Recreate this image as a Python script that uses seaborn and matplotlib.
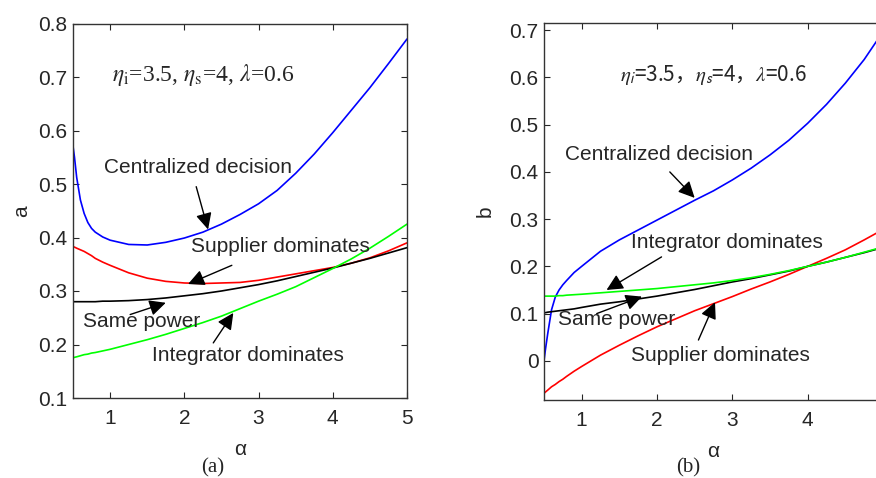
import numpy as np
import pandas as pd
import matplotlib
matplotlib.use('Agg')
import matplotlib.pyplot as plt
import seaborn as sns

# alpha grid (shared by every curve)
alpha = [0.5, 0.52, 0.55, 0.6, 0.65, 0.7, 0.75, 0.8, 0.9, 1.0, 1.25, 1.5, 1.75, 2.0, 2.25,
         2.5, 2.75, 3.0, 3.25, 3.5, 3.75, 4.0, 4.25, 4.5, 4.75, 5.0]

# panel (a): a
a_central = [0.571, 0.550, 0.512, 0.470, 0.445, 0.428, 0.417, 0.410, 0.401, 0.395,
             0.387, 0.386, 0.391, 0.399, 0.410, 0.425, 0.443, 0.463, 0.488, 0.520,
             0.556, 0.596, 0.638, 0.680, 0.725, 0.771]
a_supplier = [0.383, 0.382, 0.380, 0.377, 0.374, 0.370, 0.366, 0.361, 0.354, 0.348,
              0.334, 0.324, 0.318, 0.315, 0.314, 0.315, 0.316, 0.320, 0.326, 0.332,
              0.338, 0.344, 0.352, 0.362, 0.375, 0.390]
a_same = [0.280, 0.280, 0.280, 0.280, 0.280, 0.280, 0.280, 0.280, 0.281, 0.281,
          0.282, 0.284, 0.287, 0.291, 0.295, 0.300, 0.306, 0.312, 0.319, 0.327,
          0.335, 0.343, 0.352, 0.361, 0.371, 0.381]
a_integrator = [0.175, 0.176, 0.177, 0.179, 0.181, 0.182, 0.184, 0.185, 0.188, 0.191,
                0.200, 0.209, 0.219, 0.230, 0.241, 0.253, 0.267, 0.281, 0.294, 0.308,
                0.325, 0.342, 0.360, 0.380, 0.402, 0.425]

# panel (b): b
b_central = [0.0, 0.025, 0.058, 0.108, 0.135, 0.150, 0.161, 0.170, 0.187, 0.200,
             0.232, 0.256, 0.277, 0.298, 0.319, 0.340, 0.360, 0.383, 0.408, 0.436,
             0.467, 0.503, 0.543, 0.588, 0.638, 0.697]
b_supplier = [-0.069, -0.066, -0.062, -0.055, -0.050, -0.044, -0.039, -0.033, -0.022, -0.012,
              0.012, 0.033, 0.053, 0.072, 0.089, 0.106, 0.121, 0.136, 0.152, 0.167,
              0.183, 0.200, 0.217, 0.235, 0.256, 0.278]
b_same = [0.102, 0.102, 0.103, 0.104, 0.105, 0.106, 0.107, 0.108, 0.110, 0.113,
          0.120, 0.125, 0.131, 0.137, 0.144, 0.151, 0.159, 0.167, 0.174, 0.182,
          0.190, 0.200, 0.209, 0.219, 0.229, 0.240]
b_integrator = [0.137, 0.137, 0.137, 0.137, 0.137, 0.138, 0.138, 0.139, 0.140, 0.141,
                0.144, 0.147, 0.150, 0.153, 0.157, 0.161, 0.165, 0.170, 0.176, 0.183,
                0.191, 0.200, 0.209, 0.219, 0.230, 0.241]

curve_names = ['Centralized decision', 'Supplier dominates', 'Same power', 'Integrator dominates']
curve_colors = ['#0000ff', '#ff0000', '#000000', '#00ff00']

a_ticks = [0.1, 0.2, 0.3, 0.4, 0.5, 0.6, 0.7, 0.8]
a_ticklabels = ['0.1', '0.2', '0.3', '0.4', '0.5', '0.6', '0.7', '0.8']
b_ticks = [0, 0.1, 0.2, 0.3, 0.4, 0.5, 0.6, 0.7]
b_ticklabels = ['0', '0.1', '0.2', '0.3', '0.4', '0.5', '0.6', '0.7']
x_ticks = [1, 2, 3, 4, 5]
xa_ticklabels = ['1', '2', '3', '4', '5']
xb_ticklabels = ['1', '2', '3', '4', '']  # "5" falls outside the cropped picture

sns.set_style('white')
plt.rcParams['font.family'] = ['Liberation Sans', 'DejaVu Sans']
plt.rcParams['mathtext.fontset'] = 'stix'

FS = 15
DARK = '#262626'


def long_frame(series):
    rows = []
    for name, vals in zip(curve_names, series):
        for x, y in zip(alpha, vals):
            rows.append({'alpha': x, 'value': y, 'curve': name})
    return pd.DataFrame(rows)


df_a = long_frame([a_central, a_supplier, a_same, a_integrator])
df_b = long_frame([b_central, b_supplier, b_same, b_integrator])
palette = dict(zip(curve_names, curve_colors))

fig = plt.figure(figsize=(8.76, 4.78), dpi=100)
ax1 = fig.add_axes([73 / 876, 1 - 398 / 478, (407 - 73) / 876, (398 - 23.5) / 478])
ax2 = fig.add_axes([544 / 876, 1 - 400 / 478, (883 - 544) / 876, (400 - 22.7) / 478])

for ax, df, xl in [(ax1, df_a, xa_ticklabels), (ax2, df_b, xb_ticklabels)]:
    sns.lineplot(data=df, x='alpha', y='value', hue='curve', palette=palette,
                 hue_order=curve_names, estimator=None, sort=False,
                 linewidth=1.2, legend=False, ax=ax)
    ax.set_xlim(0.5, 5)
    ax.set_xticks(x_ticks, labels=xl)
    ax.tick_params(direction='in', top=True, right=True, bottom=True, left=True,
                   length=4, width=0.8, color=DARK, labelsize=FS, labelcolor=DARK)
    ax.tick_params(axis='x', pad=8)
    ax.tick_params(axis='y', pad=4)
    for sp in ax.spines.values():
        sp.set_visible(True)
        sp.set_color('#333333')
        sp.set_linewidth(1.0)
    ax.set_xlabel('α', fontsize=FS, color=DARK)
    ax.xaxis.set_label_coords(0.5, -0.112)

ax1.set_ylim(0.1, 0.8)
ax1.set_yticks(a_ticks, labels=a_ticklabels)
ax1.set_ylabel('a', fontsize=FS, color=DARK)
ax1.yaxis.set_label_coords(-0.125, 0.5)

ax2.set_ylim(-0.083, 0.716)
ax2.set_yticks(b_ticks, labels=b_ticklabels)
ax2.set_ylabel('b', fontsize=FS, color=DARK)
ax2.yaxis.set_label_coords(-0.145, 0.5)

arrow = dict(arrowstyle='-|>,head_length=0.45,head_width=0.22', color='k',
             lw=1.0, shrinkA=0, shrinkB=0, mutation_scale=22)

# panel (a) annotations
ax1.text(1.03, 0.703, r'$\eta_{\rm i}$=3.5, $\eta_{\rm s}$=4, $\lambda$=0.6',
         fontsize=17, family='Liberation Serif', ha='left', va='center')
ax1.text(0.92, 0.531, 'Centralized decision', fontsize=FS, ha='left', va='center')
ax1.text(2.085, 0.383, 'Supplier dominates', fontsize=FS, ha='left', va='center')
ax1.text(0.63, 0.2436, 'Same power', fontsize=FS, ha='left', va='center')
ax1.text(1.56, 0.179, 'Integrator dominates', fontsize=FS, ha='left', va='center')
ax1.annotate('', xy=(2.32, 0.415), xytext=(2.16, 0.495), arrowprops=arrow)
ax1.annotate('', xy=(2.05, 0.313), xytext=(2.64, 0.348), arrowprops=arrow)
ax1.annotate('', xy=(1.75, 0.278), xytext=(1.27, 0.256), arrowprops=arrow)
ax1.annotate('', xy=(2.66, 0.259), xytext=(2.39, 0.203), arrowprops=arrow)

# panel (b) annotations
ax2.text(1.51, 0.605, r'$\eta_{\mathsf{i}}$=3.5，$\eta_{\mathsf{s}}$=4，$\lambda$=0.6',
         fontsize=FS, family='Noto Sans CJK SC', ha='left', va='center')
ax2.text(0.78, 0.436, 'Centralized decision', fontsize=FS, ha='left', va='center')
ax2.text(1.65, 0.25, 'Integrator dominates', fontsize=FS, ha='left', va='center')
ax2.text(0.69, 0.088, 'Same power', fontsize=FS, ha='left', va='center')
ax2.text(1.65, 0.012, 'Supplier dominates', fontsize=FS, ha='left', va='center')
ax2.annotate('', xy=(2.5, 0.345), xytext=(2.17, 0.40), arrowprops=arrow)
ax2.annotate('', xy=(1.33, 0.15), xytext=(2.06, 0.22), arrowprops=arrow)
ax2.annotate('', xy=(1.8, 0.136), xytext=(1.2, 0.10), arrowprops=arrow)
ax2.annotate('', xy=(2.77, 0.124), xytext=(2.55, 0.044), arrowprops=arrow)

fig.text(213 / 876, 1 - 468 / 478, '(a)', fontsize=FS, family='Liberation Serif',
         ha='center', va='center')
fig.text(688 / 876, 1 - 468 / 478, '(b)', fontsize=FS, family='Liberation Serif',
         ha='center', va='center')

fig.savefig('out.png', dpi=100)
